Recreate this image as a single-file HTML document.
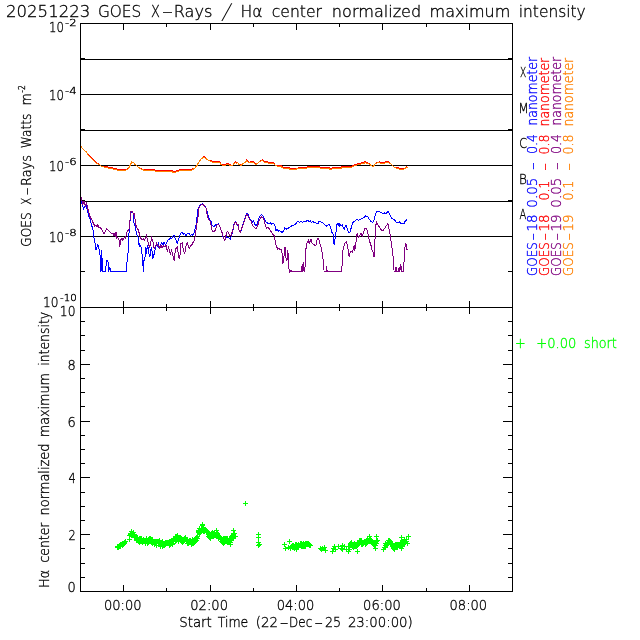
<!DOCTYPE html>
<html lang="en"><head><meta charset="utf-8"><title>GOES X-Rays / H-alpha</title>
<style>
html,body{margin:0;padding:0;background:#fff;}
body{width:640px;height:640px;overflow:hidden;}
svg{display:block;}
text{white-space:pre;}
</style></head><body>
<svg width="640" height="640" viewBox="0 0 640 640">
<rect width="640" height="640" fill="#fff"/>
<g shape-rendering="crispEdges">
<rect x="80" y="23" width="433" height="1" fill="#000"/>
<rect x="80" y="307" width="433" height="1" fill="#000"/>
<rect x="80" y="591" width="433" height="1" fill="#000"/>
<rect x="80" y="23" width="1" height="569" fill="#000"/>
<rect x="512" y="23" width="1" height="569" fill="#000"/>
<rect x="123" y="23" width="1" height="7" fill="#000"/>
<rect x="123" y="301" width="1" height="13" fill="#000"/>
<rect x="123" y="585" width="1" height="7" fill="#000"/>
<rect x="166" y="23" width="1" height="4" fill="#000"/>
<rect x="166" y="304" width="1" height="7" fill="#000"/>
<rect x="166" y="588" width="1" height="4" fill="#000"/>
<rect x="210" y="23" width="1" height="7" fill="#000"/>
<rect x="210" y="301" width="1" height="13" fill="#000"/>
<rect x="210" y="585" width="1" height="7" fill="#000"/>
<rect x="253" y="23" width="1" height="4" fill="#000"/>
<rect x="253" y="304" width="1" height="7" fill="#000"/>
<rect x="253" y="588" width="1" height="4" fill="#000"/>
<rect x="296" y="23" width="1" height="7" fill="#000"/>
<rect x="296" y="301" width="1" height="13" fill="#000"/>
<rect x="296" y="585" width="1" height="7" fill="#000"/>
<rect x="339" y="23" width="1" height="4" fill="#000"/>
<rect x="339" y="304" width="1" height="7" fill="#000"/>
<rect x="339" y="588" width="1" height="4" fill="#000"/>
<rect x="382" y="23" width="1" height="7" fill="#000"/>
<rect x="382" y="301" width="1" height="13" fill="#000"/>
<rect x="382" y="585" width="1" height="7" fill="#000"/>
<rect x="426" y="23" width="1" height="4" fill="#000"/>
<rect x="426" y="304" width="1" height="7" fill="#000"/>
<rect x="426" y="588" width="1" height="4" fill="#000"/>
<rect x="469" y="23" width="1" height="7" fill="#000"/>
<rect x="469" y="301" width="1" height="13" fill="#000"/>
<rect x="469" y="585" width="1" height="7" fill="#000"/>
<rect x="80" y="59" width="433" height="1" fill="#000"/>
<rect x="80" y="94" width="433" height="1" fill="#000"/>
<rect x="80" y="130" width="433" height="1" fill="#000"/>
<rect x="80" y="165" width="433" height="1" fill="#000"/>
<rect x="80" y="201" width="433" height="1" fill="#000"/>
<rect x="80" y="236" width="433" height="1" fill="#000"/>
<rect x="80" y="271" width="5" height="1" fill="#000"/>
<rect x="508" y="271" width="5" height="1" fill="#000"/>
<rect x="80" y="58" width="5" height="1" fill="#000"/>
<rect x="508" y="58" width="5" height="1" fill="#000"/>
<rect x="80" y="129" width="5" height="1" fill="#000"/>
<rect x="508" y="129" width="5" height="1" fill="#000"/>
<rect x="80" y="200" width="5" height="1" fill="#000"/>
<rect x="508" y="200" width="5" height="1" fill="#000"/>
<rect x="80" y="577" width="5" height="1" fill="#000"/>
<rect x="508" y="577" width="5" height="1" fill="#000"/>
<rect x="80" y="563" width="5" height="1" fill="#000"/>
<rect x="508" y="563" width="5" height="1" fill="#000"/>
<rect x="80" y="548" width="5" height="1" fill="#000"/>
<rect x="508" y="548" width="5" height="1" fill="#000"/>
<rect x="80" y="534" width="10" height="1" fill="#000"/>
<rect x="503" y="534" width="10" height="1" fill="#000"/>
<rect x="80" y="520" width="5" height="1" fill="#000"/>
<rect x="508" y="520" width="5" height="1" fill="#000"/>
<rect x="80" y="506" width="5" height="1" fill="#000"/>
<rect x="508" y="506" width="5" height="1" fill="#000"/>
<rect x="80" y="492" width="5" height="1" fill="#000"/>
<rect x="508" y="492" width="5" height="1" fill="#000"/>
<rect x="80" y="477" width="10" height="1" fill="#000"/>
<rect x="503" y="477" width="10" height="1" fill="#000"/>
<rect x="80" y="463" width="5" height="1" fill="#000"/>
<rect x="508" y="463" width="5" height="1" fill="#000"/>
<rect x="80" y="449" width="5" height="1" fill="#000"/>
<rect x="508" y="449" width="5" height="1" fill="#000"/>
<rect x="80" y="435" width="5" height="1" fill="#000"/>
<rect x="508" y="435" width="5" height="1" fill="#000"/>
<rect x="80" y="421" width="10" height="1" fill="#000"/>
<rect x="503" y="421" width="10" height="1" fill="#000"/>
<rect x="80" y="406" width="5" height="1" fill="#000"/>
<rect x="508" y="406" width="5" height="1" fill="#000"/>
<rect x="80" y="392" width="5" height="1" fill="#000"/>
<rect x="508" y="392" width="5" height="1" fill="#000"/>
<rect x="80" y="378" width="5" height="1" fill="#000"/>
<rect x="508" y="378" width="5" height="1" fill="#000"/>
<rect x="80" y="364" width="10" height="1" fill="#000"/>
<rect x="503" y="364" width="10" height="1" fill="#000"/>
<rect x="80" y="350" width="5" height="1" fill="#000"/>
<rect x="508" y="350" width="5" height="1" fill="#000"/>
<rect x="80" y="335" width="5" height="1" fill="#000"/>
<rect x="508" y="335" width="5" height="1" fill="#000"/>
<rect x="80" y="321" width="5" height="1" fill="#000"/>
<rect x="508" y="321" width="5" height="1" fill="#000"/>
<polyline points="81.0,199.2 82.2,204.2 83.5,208.6 85.4,205.5 86.6,204.2 87.2,210.5 89.1,216.8 90.4,220.5 91.6,225.5 92.9,228.6 93.5,235.5 94.8,241.8 96.0,249.9 97.2,246.8 97.9,244.9 98.5,248.0 99.8,250.5 100.4,261.8 101.0,271.8 101.6,250.5 102.2,261.8 102.9,271.8 105.4,271.8 106.6,260.5 107.9,259.9 108.5,271.8 109.8,267.4 111.0,271.8 126.0,271.8 127.2,260.5 128.5,248.0 129.1,230.5 129.8,223.0 131.0,213.0 132.2,211.8 133.5,214.2 134.1,224.2 135.4,226.8 136.6,234.2 138.5,238.0 139.1,246.8 139.8,244.2 141.0,246.8 142.2,255.5 143.5,271.8 144.1,258.0 144.8,260.5 145.4,250.5 146.0,247.4 146.6,254.2 147.2,246.8 147.9,245.5 148.5,251.8 149.8,257.4 151.0,249.2 151.6,248.0 152.9,258.6 154.1,254.2 155.4,248.0 156.6,244.2 157.9,246.8 158.5,242.4 159.1,249.2 160.4,245.5 161.6,243.0 162.9,244.9 164.1,242.4 165.4,244.9 166.6,243.0 167.9,239.9 169.1,239.9 170.4,238.0 171.6,238.6 172.9,236.1 174.1,235.5 175.4,238.6 176.6,241.1 177.2,243.6 178.5,239.9 179.8,235.5 181.0,233.0 182.2,232.4 183.5,234.2 184.8,233.6 186.0,235.5 187.9,233.0 189.1,233.6 190.4,235.5 191.6,234.2 192.9,235.5 194.1,233.0 195.4,227.4 196.6,222.4 197.6,210.5 199.8,205.5 202.2,203.8 204.5,205.2 206.2,208.0 207.9,214.2 209.1,218.6 211.0,221.1 212.2,225.5 214.1,226.8 215.4,224.9 216.6,224.2 218.5,224.0 219.8,226.1 221.0,229.9 222.2,233.0 223.5,238.6 224.8,239.9 226.6,236.8 228.5,237.4 230.4,239.2 231.6,235.5 232.9,231.1 234.1,223.6 235.4,221.8 236.6,223.6 237.9,225.5 238.5,229.2 239.8,231.8 241.0,230.5 242.2,226.8 243.5,222.4 244.8,218.6 246.0,214.9 247.2,213.0 248.5,214.9 249.8,219.2 251.0,219.9 252.2,222.4 253.5,221.1 254.8,224.2 256.0,226.1 257.2,223.6 258.5,219.9 259.8,216.1 261.6,214.2 262.9,216.1 264.1,218.0 265.4,221.1 266.6,222.4 268.5,223.6 270.4,223.0 271.6,224.2 273.5,223.6 274.8,225.5 276.0,230.5 277.2,229.2 278.5,231.1 279.8,230.5 281.0,231.8 282.2,232.4 283.5,231.1 284.8,227.4 286.0,229.2 287.2,228.6 288.5,228.0 290.4,226.8 292.2,225.5 294.1,224.9 296.0,223.6 297.9,221.1 299.1,222.4 301.0,221.1 302.2,222.4 304.1,221.1 305.4,221.8 306.6,221.1 307.9,219.9 309.1,221.8 310.4,221.1 311.6,222.4 312.9,221.1 314.1,222.4 316.0,223.0 318.5,223.0 318.5,221.8 321.0,222.0 322.9,223.0 324.8,224.9 326.6,226.1 327.9,224.9 329.1,224.2 330.4,226.8 331.6,231.8 332.9,233.6 333.5,236.8 334.1,244.9 335.4,236.8 336.0,231.8 337.0,224.2 338.2,223.6 339.1,226.1 339.8,223.6 341.0,226.1 342.2,224.9 344.1,229.2 345.4,225.5 346.6,226.1 347.9,231.1 349.1,233.0 350.4,231.1 351.6,226.1 352.9,222.4 354.8,221.1 356.6,219.2 358.5,220.5 360.4,219.2 362.2,218.6 364.1,217.4 365.4,215.9 367.2,216.1 368.5,218.0 369.8,219.9 371.0,221.8 372.9,222.4 374.1,219.9 375.4,214.2 376.6,212.0 378.5,211.8 380.4,212.1 382.2,213.0 383.5,213.6 384.8,212.8 386.0,214.2 387.9,211.1 387.9,211.1 389.1,213.0 390.4,216.1 391.6,218.0 393.5,219.2 395.4,221.1 396.6,222.8 398.5,222.8 399.8,221.8 401.0,223.6 402.9,224.0 404.1,223.6 404.8,221.8 406.2,219.9 407.2,221.1" fill="none" stroke="#0000ff" stroke-width="1"/>
<polyline points="81.0,197.4 82.9,204.2 84.1,201.1 85.4,206.1 86.6,203.0 87.9,209.2 89.1,213.0 90.4,218.0 91.6,219.2 92.9,222.4 94.8,226.1 96.0,225.5 97.2,226.8 97.9,224.9 99.1,228.0 100.4,227.4 102.2,230.5 104.1,233.6 106.6,228.6 109.1,231.1 111.6,233.6 112.9,233.0 113.5,235.5 114.1,233.0 115.4,236.8 116.0,231.8 116.6,238.0 117.9,237.4 119.1,239.9 119.8,245.5 120.4,244.2 121.0,239.2 122.2,238.6 122.9,240.5 124.1,237.4 125.4,238.6 126.6,233.0 127.9,230.5 129.1,229.2 129.8,220.5 130.4,218.0 131.0,211.1 132.2,211.1 133.5,214.2 134.1,213.6 135.4,221.8 136.0,225.5 137.2,228.0 138.5,230.5 139.8,235.5 141.0,238.6 142.2,239.9 143.5,238.6 144.1,240.5 145.4,238.6 146.6,235.5 147.2,238.6 148.5,244.2 149.8,247.4 151.6,238.0 152.9,241.8 154.1,248.6 155.4,246.8 156.6,243.0 157.9,245.5 158.5,245.5 159.8,248.0 161.0,244.9 162.2,248.0 163.5,245.5 164.8,246.8 166.0,244.9 167.2,251.1 168.5,247.4 170.4,254.2 171.6,250.5 172.9,255.5 174.1,260.5 175.4,249.2 177.2,247.4 178.5,254.2 179.1,258.6 179.8,258.0 181.0,243.6 182.2,243.0 183.5,250.5 184.8,253.6 185.4,248.0 187.2,243.0 189.1,248.6 190.4,246.1 192.2,244.2 194.1,240.5 195.4,234.9 196.6,225.5 197.9,219.2 198.5,209.2 200.4,205.5 202.2,204.2 204.1,205.5 206.0,208.0 207.2,215.5 208.5,219.2 210.4,221.8 211.6,228.6 212.9,231.8 214.8,231.1 216.0,228.0 217.2,224.9 218.5,224.2 219.8,226.1 221.0,229.9 222.2,233.0 223.5,238.0 224.8,240.5 226.0,235.5 227.2,231.8 228.5,232.4 229.8,235.5 231.0,236.1 232.2,231.8 233.5,226.8 234.8,222.4 236.0,222.4 237.2,224.9 238.5,224.9 239.1,230.5 240.4,231.8 241.6,228.6 242.9,225.5 244.8,219.9 246.0,216.1 247.2,214.2 248.5,216.8 249.8,219.9 251.0,221.1 252.2,224.9 254.1,227.4 255.4,228.6 256.6,228.0 257.9,224.9 259.1,220.5 260.4,218.0 261.6,216.8 262.9,218.0 264.1,219.9 265.4,225.5 266.6,228.0 267.9,227.4 269.1,228.6 270.4,230.5 272.2,233.6 274.1,235.5 275.4,242.4 276.6,246.8 277.9,249.2 279.1,248.6 280.4,249.9 281.6,249.2 282.2,254.2 282.9,263.6 284.1,255.5 285.0,246.8 286.0,258.0 287.0,260.5 287.9,249.9 288.5,266.8 289.8,271.8 291.0,270.5 292.2,271.8 301.0,271.8 301.6,266.1 302.5,271.8 303.2,261.8 304.1,271.8 305.0,266.8 306.0,248.6 307.2,242.4 308.5,239.9 309.1,243.6 311.0,239.2 312.2,243.6 313.5,244.2 314.8,245.5 316.0,244.9 317.2,239.2 318.5,238.6 319.8,243.0 321.0,246.8 322.2,253.0 323.5,263.0 324.1,271.8 326.0,271.8 326.6,266.1 327.2,271.8 341.6,271.8 342.2,263.0 342.9,250.5 344.1,245.5 345.4,242.4 346.6,241.8 347.9,248.0 349.1,256.8 349.8,253.0 351.0,251.1 352.2,252.4 353.5,249.2 354.1,244.9 354.8,250.5 356.0,241.8 357.2,233.0 358.5,237.4 359.8,235.5 361.0,233.0 362.2,236.1 363.5,232.4 364.8,228.6 366.0,228.6 367.2,229.9 368.5,236.8 369.8,241.8 371.0,245.5 372.2,250.5 373.5,253.0 374.1,257.4 374.8,245.5 375.4,226.8 376.6,222.4 377.9,224.9 379.8,227.4 381.6,230.5 382.9,231.1 384.8,228.0 386.6,225.5 387.9,223.6 387.9,223.6 389.1,229.2 390.4,235.5 391.6,245.5 392.9,254.2 393.5,263.0 394.1,271.8 395.4,271.8 396.0,267.4 396.6,271.8 398.5,271.8 399.1,267.4 399.8,271.8 400.8,263.6 401.6,271.8 403.5,271.8 404.1,260.5 405.0,246.8 406.0,243.6 406.6,249.2 407.2,249.9" fill="none" stroke="#800080" stroke-width="1"/>
<polyline points="81.1,146.5 83.7,150.0 86.2,151.7 89.3,155.5 92.8,158.9 96.2,162.3 99.1,164.6 101.7,166.3 104.3,166.1 107.7,167.0 112.9,167.9 117.2,169.1 125.8,169.1 128.3,168.9 130.1,165.4 131.8,162.0 133.5,162.5 135.2,164.6 137.8,166.6 140.4,168.9 143.8,169.1 154.1,169.6 155.8,170.4 171.3,170.4 173.0,171.3 176.5,171.0 179.9,169.6 188.5,169.1 188.5,169.6 191.9,169.1 194.5,168.3 197.1,165.4 198.8,162.0 201.4,158.5 204.0,156.3 205.7,158.5 208.3,160.3 211.7,161.0 214.3,161.5 219.4,161.5 221.2,164.6 223.7,164.8 226.3,163.9 228.9,163.9 230.6,164.8 232.3,165.8 234.0,163.4 235.8,161.5 236.6,162.4 237.5,162.5 239.2,164.6 240.9,164.8 242.6,163.7 245.2,162.5 246.9,159.8 248.7,162.5 251.2,161.8 253.8,161.8 255.5,163.6 257.2,163.7 259.8,161.5 262.4,159.6 264.1,162.0 266.7,161.8 270.1,162.2 273.6,162.7 275.3,165.4 277.9,165.3 280.5,165.3 283.0,167.0 288.2,167.0 289.9,168.4 295.9,168.4 298.5,168.0 298.5,167.0 307.1,167.0 308.0,166.1 319.1,166.1 320.0,167.0 328.6,167.3 330.3,168.7 332.0,167.9 336.3,167.9 338.0,167.0 341.5,167.0 342.3,166.1 351.8,166.1 353.5,165.3 356.1,164.4 359.5,163.2 363.0,162.7 365.5,161.5 367.2,162.7 369.8,164.2 371.5,165.9 373.3,166.6 375.8,163.2 379.3,161.8 382.7,162.7 386.2,161.8 388.7,161.8 391.3,164.2 393.0,166.3 395.6,167.7 398.2,167.9 401.6,168.7 404.2,168.9 406.8,166.1 407.6,168.0" fill="none" stroke="#ff0000" stroke-width="1"/>
<polyline points="81.1,146.5 83.7,150.0 86.2,151.7 88.8,156.0 92.2,159.4 95.7,162.8 99.1,164.6 101.7,166.3 104.3,167.1 107.7,168.0 112.9,168.9 117.2,170.1 125.8,170.1 128.3,168.9 130.1,165.4 131.8,162.0 133.5,162.5 135.2,164.6 137.8,166.6 140.4,168.9 143.8,170.1 154.1,170.6 155.8,171.4 171.3,171.4 173.0,172.3 176.5,172.0 179.9,170.6 188.5,170.1 188.5,170.6 191.9,170.1 194.5,168.3 197.1,165.4 198.8,162.0 201.4,158.5 204.0,157.3 205.7,158.5 208.3,160.3 211.7,162.0 214.3,162.5 219.4,162.5 221.2,164.6 223.7,165.8 226.3,164.9 228.9,164.9 230.6,165.8 232.3,165.8 234.0,163.4 235.8,162.5 236.6,163.4 237.5,162.5 239.2,164.6 240.9,165.8 242.6,163.7 245.2,162.5 246.9,160.8 248.7,162.5 251.2,162.8 253.8,162.8 255.5,164.6 257.2,163.7 259.8,161.5 262.4,160.6 264.1,162.0 266.7,162.8 270.1,163.2 273.6,163.7 275.3,165.4 277.9,166.3 280.5,166.3 283.0,168.0 288.2,168.0 289.9,169.4 295.9,169.4 298.5,168.0 298.5,168.0 307.1,168.0 308.0,167.1 319.1,167.1 320.0,168.0 328.6,168.3 330.3,169.7 332.0,168.9 336.3,168.9 338.0,168.0 341.5,168.0 342.3,167.1 351.8,167.1 353.5,166.3 356.1,165.4 359.5,164.2 363.0,163.7 365.5,162.5 367.2,163.7 369.8,164.2 371.5,165.9 373.3,166.6 375.8,163.2 379.3,162.8 382.7,163.7 386.2,162.8 388.7,162.8 391.3,164.2 393.0,166.3 395.6,167.7 398.2,168.9 401.6,169.7 404.2,168.9 406.8,167.1 407.6,168.0" fill="none" stroke="#ff8000" stroke-width="1"/>
<path d="M115 547.5h5M117.5 545v5M115 546.5h5M117.5 544v5M116 547.5h5M118.5 545v5M116 546.5h5M118.5 544v5M116 546.5h5M118.5 544v5M117 546.5h5M119.5 544v5M117 545.5h5M119.5 543v5M118 546.5h5M120.5 544v5M118 544.5h5M120.5 542v5M118 545.5h5M120.5 543v5M119 544.5h5M121.5 542v5M119 544.5h5M121.5 542v5M119 544.5h5M121.5 542v5M120 545.5h5M122.5 543v5M120 543.5h5M122.5 541v5M120 543.5h5M122.5 541v5M121 544.5h5M123.5 542v5M121 544.5h5M123.5 542v5M122 543.5h5M124.5 541v5M122 542.5h5M124.5 540v5M122 543.5h5M124.5 541v5M123 541.5h5M125.5 539v5M127 539.5h5M129.5 537v5M127 535.5h5M129.5 533v5M128 534.5h5M130.5 532v5M128 533.5h5M130.5 531v5M128 533.5h5M130.5 531v5M129 535.5h5M131.5 533v5M129 531.5h5M131.5 529v5M130 533.5h5M132.5 531v5M130 534.5h5M132.5 532v5M130 533.5h5M132.5 531v5M130 534.5h5M132.5 532v5M131 532.5h5M133.5 530v5M131 532.5h5M133.5 530v5M132 534.5h5M134.5 532v5M132 537.5h5M134.5 535v5M132 536.5h5M134.5 534v5M133 536.5h5M135.5 534v5M133 537.5h5M135.5 535v5M133 537.5h5M135.5 535v5M134 537.5h5M136.5 535v5M134 540.5h5M136.5 538v5M134 539.5h5M136.5 537v5M135 537.5h5M137.5 535v5M135 539.5h5M137.5 537v5M135 539.5h5M137.5 537v5M136 541.5h5M138.5 539v5M136 540.5h5M138.5 538v5M137 538.5h5M139.5 536v5M137 542.5h5M139.5 540v5M137 538.5h5M139.5 536v5M138 539.5h5M140.5 537v5M138 541.5h5M140.5 539v5M138 538.5h5M140.5 536v5M139 540.5h5M141.5 538v5M139 538.5h5M141.5 536v5M139 541.5h5M141.5 539v5M140 542.5h5M142.5 540v5M140 541.5h5M142.5 539v5M140 542.5h5M142.5 540v5M141 539.5h5M143.5 537v5M141 541.5h5M143.5 539v5M142 541.5h5M144.5 539v5M142 541.5h5M144.5 539v5M142 540.5h5M144.5 538v5M143 542.5h5M145.5 540v5M143 543.5h5M145.5 541v5M143 540.5h5M145.5 538v5M144 541.5h5M146.5 539v5M144 538.5h5M146.5 536v5M144 541.5h5M146.5 539v5M145 541.5h5M147.5 539v5M145 543.5h5M147.5 541v5M146 542.5h5M148.5 540v5M146 539.5h5M148.5 537v5M146 540.5h5M148.5 538v5M147 541.5h5M149.5 539v5M147 538.5h5M149.5 536v5M147 540.5h5M149.5 538v5M148 538.5h5M150.5 536v5M148 538.5h5M150.5 536v5M148 538.5h5M150.5 536v5M149 542.5h5M151.5 540v5M149 539.5h5M151.5 537v5M149 539.5h5M151.5 537v5M150 540.5h5M152.5 538v5M150 543.5h5M152.5 541v5M150 539.5h5M152.5 537v5M151 541.5h5M153.5 539v5M151 542.5h5M153.5 540v5M152 544.5h5M154.5 542v5M152 544.5h5M154.5 542v5M152 544.5h5M154.5 542v5M153 541.5h5M155.5 539v5M153 542.5h5M155.5 540v5M153 542.5h5M155.5 540v5M154 545.5h5M156.5 543v5M154 545.5h5M156.5 543v5M154 541.5h5M156.5 539v5M155 541.5h5M157.5 539v5M155 541.5h5M157.5 539v5M156 541.5h5M158.5 539v5M156 543.5h5M158.5 541v5M156 543.5h5M158.5 541v5M157 542.5h5M159.5 540v5M157 540.5h5M159.5 538v5M157 543.5h5M159.5 541v5M158 542.5h5M160.5 540v5M158 543.5h5M160.5 541v5M158 546.5h5M160.5 544v5M159 544.5h5M161.5 542v5M159 543.5h5M161.5 541v5M159 544.5h5M161.5 542v5M160 544.5h5M162.5 542v5M160 541.5h5M162.5 539v5M160 546.5h5M162.5 544v5M161 545.5h5M163.5 543v5M161 545.5h5M163.5 543v5M162 545.5h5M164.5 543v5M162 543.5h5M164.5 541v5M162 543.5h5M164.5 541v5M163 542.5h5M165.5 540v5M163 544.5h5M165.5 542v5M163 542.5h5M165.5 540v5M164 542.5h5M166.5 540v5M164 543.5h5M166.5 541v5M164 542.5h5M166.5 540v5M165 543.5h5M167.5 541v5M165 542.5h5M167.5 540v5M166 542.5h5M168.5 540v5M166 542.5h5M168.5 540v5M166 542.5h5M168.5 540v5M167 543.5h5M169.5 541v5M167 541.5h5M169.5 539v5M167 545.5h5M169.5 543v5M168 544.5h5M170.5 542v5M168 541.5h5M170.5 539v5M168 541.5h5M170.5 539v5M169 542.5h5M171.5 540v5M169 541.5h5M171.5 539v5M169 540.5h5M171.5 538v5M170 543.5h5M172.5 541v5M170 544.5h5M172.5 542v5M170 541.5h5M172.5 539v5M171 541.5h5M173.5 539v5M171 538.5h5M173.5 536v5M171 538.5h5M173.5 536v5M172 539.5h5M174.5 537v5M172 538.5h5M174.5 536v5M173 541.5h5M175.5 539v5M173 537.5h5M175.5 535v5M173 536.5h5M175.5 534v5M174 540.5h5M176.5 538v5M174 538.5h5M176.5 536v5M174 536.5h5M176.5 534v5M175 538.5h5M177.5 536v5M175 535.5h5M177.5 533v5M175 538.5h5M177.5 536v5M176 541.5h5M178.5 539v5M176 540.5h5M178.5 538v5M176 539.5h5M178.5 537v5M177 537.5h5M179.5 535v5M177 538.5h5M179.5 536v5M178 537.5h5M180.5 535v5M178 540.5h5M180.5 538v5M178 539.5h5M180.5 537v5M179 541.5h5M181.5 539v5M179 538.5h5M181.5 536v5M179 538.5h5M181.5 536v5M180 541.5h5M182.5 539v5M180 542.5h5M182.5 540v5M180 541.5h5M182.5 539v5M181 541.5h5M183.5 539v5M181 541.5h5M183.5 539v5M181 541.5h5M183.5 539v5M182 538.5h5M184.5 536v5M182 540.5h5M184.5 538v5M183 539.5h5M185.5 537v5M183 537.5h5M185.5 535v5M183 537.5h5M185.5 535v5M184 539.5h5M186.5 537v5M184 539.5h5M186.5 537v5M184 541.5h5M186.5 539v5M185 543.5h5M187.5 541v5M185 540.5h5M187.5 538v5M185 543.5h5M187.5 541v5M186 543.5h5M188.5 541v5M186 543.5h5M188.5 541v5M187 540.5h5M189.5 538v5M187 540.5h5M189.5 538v5M187 540.5h5M189.5 538v5M188 540.5h5M190.5 538v5M188 540.5h5M190.5 538v5M188 542.5h5M190.5 540v5M189 544.5h5M191.5 542v5M189 543.5h5M191.5 541v5M189 541.5h5M191.5 539v5M190 542.5h5M192.5 540v5M190 543.5h5M192.5 541v5M190 539.5h5M192.5 537v5M191 542.5h5M193.5 540v5M191 543.5h5M193.5 541v5M191 542.5h5M193.5 540v5M192 542.5h5M194.5 540v5M192 540.5h5M194.5 538v5M193 538.5h5M195.5 536v5M193 541.5h5M195.5 539v5M193 538.5h5M195.5 536v5M194 540.5h5M196.5 538v5M194 540.5h5M196.5 538v5M194 537.5h5M196.5 535v5M195 536.5h5M197.5 534v5M195 538.5h5M197.5 536v5M195 536.5h5M197.5 534v5M196 532.5h5M198.5 530v5M196 531.5h5M198.5 529v5M196 530.5h5M198.5 528v5M197 533.5h5M199.5 531v5M197 532.5h5M199.5 530v5M197 528.5h5M199.5 526v5M198 531.5h5M200.5 529v5M198 532.5h5M200.5 530v5M199 530.5h5M201.5 528v5M199 528.5h5M201.5 526v5M199 528.5h5M201.5 526v5M200 525.5h5M202.5 523v5M200 524.5h5M202.5 522v5M200 530.5h5M202.5 528v5M201 528.5h5M203.5 526v5M201 528.5h5M203.5 526v5M201 531.5h5M203.5 529v5M202 529.5h5M204.5 527v5M202 531.5h5M204.5 529v5M202 531.5h5M204.5 529v5M203 529.5h5M205.5 527v5M203 529.5h5M205.5 527v5M203 530.5h5M205.5 528v5M204 530.5h5M206.5 528v5M204 532.5h5M206.5 530v5M204 531.5h5M206.5 529v5M205 532.5h5M207.5 530v5M205 531.5h5M207.5 529v5M206 536.5h5M208.5 534v5M206 533.5h5M208.5 531v5M206 534.5h5M208.5 532v5M207 535.5h5M209.5 533v5M207 537.5h5M209.5 535v5M207 535.5h5M209.5 533v5M208 538.5h5M210.5 536v5M208 536.5h5M210.5 534v5M208 536.5h5M210.5 534v5M209 535.5h5M211.5 533v5M209 533.5h5M211.5 531v5M209 535.5h5M211.5 533v5M210 533.5h5M212.5 531v5M210 532.5h5M212.5 530v5M210 536.5h5M212.5 534v5M211 533.5h5M213.5 531v5M211 534.5h5M213.5 532v5M211 536.5h5M213.5 534v5M212 535.5h5M214.5 533v5M212 533.5h5M214.5 531v5M213 534.5h5M215.5 532v5M213 534.5h5M215.5 532v5M213 535.5h5M215.5 533v5M214 532.5h5M216.5 530v5M214 534.5h5M216.5 532v5M214 532.5h5M216.5 530v5M215 533.5h5M217.5 531v5M215 536.5h5M217.5 534v5M215 535.5h5M217.5 533v5M216 535.5h5M218.5 533v5M216 537.5h5M218.5 535v5M216 538.5h5M218.5 536v5M217 536.5h5M219.5 534v5M217 537.5h5M219.5 535v5M217 537.5h5M219.5 535v5M218 537.5h5M220.5 535v5M218 538.5h5M220.5 536v5M218 537.5h5M220.5 535v5M219 538.5h5M221.5 536v5M219 538.5h5M221.5 536v5M219 541.5h5M221.5 539v5M220 540.5h5M222.5 538v5M220 541.5h5M222.5 539v5M220 542.5h5M222.5 540v5M221 538.5h5M223.5 536v5M221 540.5h5M223.5 538v5M222 542.5h5M224.5 540v5M222 541.5h5M224.5 539v5M222 538.5h5M224.5 536v5M223 538.5h5M225.5 536v5M223 539.5h5M225.5 537v5M223 538.5h5M225.5 536v5M224 539.5h5M226.5 537v5M224 538.5h5M226.5 536v5M224 541.5h5M226.5 539v5M225 541.5h5M227.5 539v5M225 542.5h5M227.5 540v5M225 538.5h5M227.5 536v5M226 541.5h5M228.5 539v5M226 541.5h5M228.5 539v5M227 538.5h5M229.5 536v5M227 542.5h5M229.5 540v5M227 542.5h5M229.5 540v5M228 538.5h5M230.5 536v5M228 542.5h5M230.5 540v5M228 538.5h5M230.5 536v5M229 538.5h5M231.5 536v5M229 540.5h5M231.5 538v5M229 539.5h5M231.5 537v5M230 535.5h5M232.5 533v5M230 536.5h5M232.5 534v5M230 536.5h5M232.5 534v5M231 535.5h5M233.5 533v5M231 533.5h5M233.5 531v5M231 534.5h5M233.5 532v5M232 536.5h5M234.5 534v5M232 533.5h5M234.5 531v5M233 536.5h5M235.5 534v5M289 546.5h5M291.5 544v5M290 545.5h5M292.5 543v5M290 546.5h5M292.5 544v5M290 547.5h5M292.5 545v5M291 547.5h5M293.5 545v5M291 545.5h5M293.5 543v5M292 548.5h5M294.5 546v5M292 547.5h5M294.5 545v5M292 548.5h5M294.5 546v5M293 545.5h5M295.5 543v5M293 545.5h5M295.5 543v5M293 544.5h5M295.5 542v5M294 547.5h5M296.5 545v5M294 545.5h5M296.5 543v5M294 544.5h5M296.5 542v5M295 545.5h5M297.5 543v5M295 547.5h5M297.5 545v5M295 546.5h5M297.5 544v5M296 544.5h5M298.5 542v5M296 544.5h5M298.5 542v5M296 546.5h5M298.5 544v5M297 545.5h5M299.5 543v5M297 545.5h5M299.5 543v5M298 543.5h5M300.5 541v5M298 543.5h5M300.5 541v5M298 545.5h5M300.5 543v5M299 544.5h5M301.5 542v5M299 543.5h5M301.5 541v5M299 546.5h5M301.5 544v5M300 545.5h5M302.5 543v5M300 546.5h5M302.5 544v5M300 544.5h5M302.5 542v5M301 546.5h5M303.5 544v5M301 543.5h5M303.5 541v5M302 546.5h5M304.5 544v5M302 544.5h5M304.5 542v5M302 544.5h5M304.5 542v5M303 545.5h5M305.5 543v5M303 546.5h5M305.5 544v5M303 543.5h5M305.5 541v5M304 543.5h5M306.5 541v5M304 544.5h5M306.5 542v5M304 543.5h5M306.5 541v5M305 543.5h5M307.5 541v5M305 543.5h5M307.5 541v5M305 543.5h5M307.5 541v5M306 543.5h5M308.5 541v5M306 544.5h5M308.5 542v5M307 544.5h5M309.5 542v5M307 545.5h5M309.5 543v5M307 544.5h5M309.5 542v5M308 545.5h5M310.5 543v5M348 543.5h5M350.5 541v5M348 544.5h5M350.5 542v5M349 542.5h5M351.5 540v5M349 544.5h5M351.5 542v5M349 543.5h5M351.5 541v5M350 546.5h5M352.5 544v5M350 545.5h5M352.5 543v5M350 544.5h5M352.5 542v5M351 545.5h5M353.5 543v5M351 547.5h5M353.5 545v5M352 543.5h5M354.5 541v5M352 546.5h5M354.5 544v5M352 544.5h5M354.5 542v5M353 544.5h5M355.5 542v5M353 546.5h5M355.5 544v5M353 544.5h5M355.5 542v5M354 544.5h5M356.5 542v5M354 545.5h5M356.5 543v5M354 546.5h5M356.5 544v5M355 543.5h5M357.5 541v5M355 545.5h5M357.5 543v5M355 544.5h5M357.5 542v5M356 543.5h5M358.5 541v5M356 542.5h5M358.5 540v5M357 542.5h5M359.5 540v5M357 540.5h5M359.5 538v5M357 540.5h5M359.5 538v5M358 540.5h5M360.5 538v5M358 542.5h5M360.5 540v5M358 540.5h5M360.5 538v5M359 540.5h5M361.5 538v5M359 540.5h5M361.5 538v5M359 544.5h5M361.5 542v5M360 544.5h5M362.5 542v5M360 543.5h5M362.5 541v5M360 542.5h5M362.5 540v5M361 542.5h5M363.5 540v5M361 542.5h5M363.5 540v5M361 543.5h5M363.5 541v5M362 541.5h5M364.5 539v5M362 542.5h5M364.5 540v5M363 541.5h5M365.5 539v5M363 544.5h5M365.5 542v5M363 544.5h5M365.5 542v5M364 541.5h5M366.5 539v5M364 540.5h5M366.5 538v5M364 543.5h5M366.5 541v5M365 540.5h5M367.5 538v5M365 540.5h5M367.5 538v5M365 539.5h5M367.5 537v5M366 540.5h5M368.5 538v5M366 541.5h5M368.5 539v5M367 541.5h5M369.5 539v5M367 540.5h5M369.5 538v5M367 541.5h5M369.5 539v5M368 539.5h5M370.5 537v5M368 540.5h5M370.5 538v5M368 540.5h5M370.5 538v5M369 541.5h5M371.5 539v5M369 540.5h5M371.5 538v5M369 540.5h5M371.5 538v5M370 541.5h5M372.5 539v5M370 541.5h5M372.5 539v5M370 543.5h5M372.5 541v5M371 543.5h5M373.5 541v5M371 544.5h5M373.5 542v5M371 544.5h5M373.5 542v5M372 544.5h5M374.5 542v5M372 545.5h5M374.5 543v5M372 542.5h5M374.5 540v5M373 542.5h5M375.5 540v5M373 545.5h5M375.5 543v5M374 541.5h5M376.5 539v5M374 543.5h5M376.5 541v5M374 543.5h5M376.5 541v5M375 540.5h5M377.5 538v5M381 549.5h5M383.5 547v5M381 549.5h5M383.5 547v5M382 547.5h5M384.5 545v5M382 547.5h5M384.5 545v5M383 547.5h5M385.5 545v5M383 543.5h5M385.5 541v5M383 545.5h5M385.5 543v5M384 544.5h5M386.5 542v5M384 545.5h5M386.5 543v5M384 544.5h5M386.5 542v5M385 544.5h5M387.5 542v5M385 543.5h5M387.5 541v5M385 544.5h5M387.5 542v5M386 542.5h5M388.5 540v5M386 542.5h5M388.5 540v5M386 540.5h5M388.5 538v5M387 540.5h5M389.5 538v5M387 540.5h5M389.5 538v5M388 541.5h5M390.5 539v5M388 541.5h5M390.5 539v5M388 544.5h5M390.5 542v5M389 543.5h5M391.5 541v5M389 543.5h5M391.5 541v5M389 544.5h5M391.5 542v5M390 545.5h5M392.5 543v5M390 545.5h5M392.5 543v5M390 543.5h5M392.5 541v5M391 547.5h5M393.5 545v5M391 548.5h5M393.5 546v5M391 547.5h5M393.5 545v5M392 547.5h5M394.5 545v5M392 547.5h5M394.5 545v5M393 544.5h5M395.5 542v5M393 547.5h5M395.5 545v5M393 545.5h5M395.5 543v5M394 544.5h5M396.5 542v5M394 544.5h5M396.5 542v5M394 546.5h5M396.5 544v5M395 544.5h5M397.5 542v5M395 546.5h5M397.5 544v5M395 547.5h5M397.5 545v5M396 545.5h5M398.5 543v5M396 544.5h5M398.5 542v5M397 545.5h5M399.5 543v5M397 545.5h5M399.5 543v5M397 546.5h5M399.5 544v5M398 545.5h5M400.5 543v5M398 545.5h5M400.5 543v5M398 542.5h5M400.5 540v5M399 542.5h5M401.5 540v5M399 543.5h5M401.5 541v5M399 545.5h5M401.5 543v5M400 542.5h5M402.5 540v5M400 543.5h5M402.5 541v5M400 541.5h5M402.5 539v5M401 541.5h5M403.5 539v5M401 541.5h5M403.5 539v5M401 543.5h5M403.5 541v5M402 543.5h5M404.5 541v5M402 543.5h5M404.5 541v5M403 541.5h5M405.5 539v5M403 542.5h5M405.5 540v5M403 541.5h5M405.5 539v5M404 541.5h5M406.5 539v5M404 539.5h5M406.5 537v5M243 503.5h5M245.5 501v5M200 524.5h5M202.5 522v5M214 530.5h5M216.5 528v5M231 530.5h5M233.5 528v5M228 544.5h5M230.5 542v5M221 543.5h5M223.5 541v5M256 534.5h5M258.5 532v5M256 537.5h5M258.5 535v5M256 542.5h5M258.5 540v5M256 545.5h5M258.5 543v5M257 544.5h5M259.5 542v5M282 544.5h5M284.5 542v5M283 548.5h5M285.5 546v5M287 541.5h5M289.5 539v5M286 547.5h5M288.5 545v5M288 548.5h5M290.5 546v5M294 549.5h5M296.5 547v5M318 548.5h5M320.5 546v5M319 549.5h5M321.5 547v5M322 547.5h5M324.5 545v5M323 550.5h5M325.5 548v5M320 548.5h5M322.5 546v5M330 551.5h5M332.5 549v5M331 548.5h5M333.5 546v5M332 546.5h5M334.5 544v5M333 549.5h5M335.5 547v5M336 546.5h5M338.5 544v5M339 548.5h5M341.5 546v5M340 545.5h5M342.5 543v5M342 546.5h5M344.5 544v5M344 549.5h5M346.5 547v5M346 546.5h5M348.5 544v5M347 549.5h5M349.5 547v5M348 545.5h5M350.5 543v5M340 549.5h5M342.5 547v5M346 551.5h5M348.5 549v5M355 551.5h5M357.5 549v5M367 536.5h5M369.5 534v5M374 536.5h5M376.5 534v5M373 548.5h5M375.5 546v5M392 549.5h5M394.5 547v5M399 548.5h5M401.5 546v5M399 537.5h5M401.5 535v5M402 539.5h5M404.5 537v5M406 536.5h5M408.5 534v5M400 546.5h5M402.5 544v5M405 543.5h5M407.5 541v5" stroke="#00ff00" stroke-width="1" fill="none"/>
</g>
<g font-family='"DejaVu Sans Light", "DejaVu Sans", "Liberation Sans", sans-serif' stroke-width="0.33" opacity="0.999">
<text x="6.04" y="17" font-size="15.6" textLength="84.24" lengthAdjust="spacingAndGlyphs" fill="#000" stroke="#000">20251223</text>
<text x="97.92" y="17" font-size="15.6" textLength="43.37" lengthAdjust="spacingAndGlyphs" fill="#000" stroke="#000">GOES</text>
<text x="151.0" y="17" font-size="15.6" textLength="8.87" lengthAdjust="spacingAndGlyphs" fill="#000" stroke="#000">X</text>
<text x="162.0" y="17" font-size="15.6" textLength="11.03" lengthAdjust="spacingAndGlyphs" fill="#000" stroke="#000">-</text>
<text x="173.71" y="17" font-size="15.6" textLength="38.75" lengthAdjust="spacingAndGlyphs" fill="#000" stroke="#000">Rays</text>
<text x="240.6" y="17" font-size="15.6" textLength="21.98" lengthAdjust="spacingAndGlyphs" fill="#000" stroke="#000">Hα</text>
<text x="271.75" y="17" font-size="15.6" textLength="50.16" lengthAdjust="spacingAndGlyphs" fill="#000" stroke="#000">center</text>
<text x="331.87" y="17" font-size="15.6" textLength="89.36" lengthAdjust="spacingAndGlyphs" fill="#000" stroke="#000">normalized</text>
<text x="429.57" y="17" font-size="15.6" textLength="80.75" lengthAdjust="spacingAndGlyphs" fill="#000" stroke="#000">maximum</text>
<text x="518.81" y="17" font-size="15.6" textLength="66.92" lengthAdjust="spacingAndGlyphs" fill="#000" stroke="#000">intensity</text>
<text x="49.12" y="32" font-size="13.2" textLength="14.83" lengthAdjust="spacingAndGlyphs" fill="#000" stroke="#000">10</text>
<text x="65.0" y="26" font-size="8.4" textLength="11.66" lengthAdjust="spacingAndGlyphs" fill="#000" stroke="#000">-2</text>
<text x="49.12" y="100" font-size="13.2" textLength="14.83" lengthAdjust="spacingAndGlyphs" fill="#000" stroke="#000">10</text>
<text x="65.0" y="94" font-size="8.4" textLength="11.66" lengthAdjust="spacingAndGlyphs" fill="#000" stroke="#000">-4</text>
<text x="49.12" y="171" font-size="13.2" textLength="14.83" lengthAdjust="spacingAndGlyphs" fill="#000" stroke="#000">10</text>
<text x="65.0" y="165" font-size="8.4" textLength="11.66" lengthAdjust="spacingAndGlyphs" fill="#000" stroke="#000">-6</text>
<text x="49.12" y="242" font-size="13.2" textLength="14.83" lengthAdjust="spacingAndGlyphs" fill="#000" stroke="#000">10</text>
<text x="65.0" y="236" font-size="8.4" textLength="11.66" lengthAdjust="spacingAndGlyphs" fill="#000" stroke="#000">-8</text>
<text x="43.08" y="307" font-size="13.2" textLength="15.48" lengthAdjust="spacingAndGlyphs" fill="#000" stroke="#000">10</text>
<text x="60.0" y="301" font-size="8.4" textLength="16.7" lengthAdjust="spacingAndGlyphs" fill="#000" stroke="#000">-10</text>
<text x="67.41" y="592" font-size="13.2" textLength="8.27" lengthAdjust="spacingAndGlyphs" fill="#000" stroke="#000">0</text>
<text x="68.4" y="540" font-size="13.2" textLength="7.24" lengthAdjust="spacingAndGlyphs" fill="#000" stroke="#000">2</text>
<text x="68.4" y="483" font-size="13.2" textLength="7.24" lengthAdjust="spacingAndGlyphs" fill="#000" stroke="#000">4</text>
<text x="67.41" y="427" font-size="13.2" textLength="8.27" lengthAdjust="spacingAndGlyphs" fill="#000" stroke="#000">6</text>
<text x="67.41" y="370" font-size="13.2" textLength="8.27" lengthAdjust="spacingAndGlyphs" fill="#000" stroke="#000">8</text>
<text x="59.86" y="316" font-size="13.2" textLength="15.7" lengthAdjust="spacingAndGlyphs" fill="#000" stroke="#000">10</text>
<text x="103.91" y="610" font-size="13.2" textLength="37.68" lengthAdjust="spacingAndGlyphs" fill="#000" stroke="#000">00:00</text>
<text x="190.31" y="610" font-size="13.2" textLength="37.68" lengthAdjust="spacingAndGlyphs" fill="#000" stroke="#000">02:00</text>
<text x="276.71" y="610" font-size="13.2" textLength="37.68" lengthAdjust="spacingAndGlyphs" fill="#000" stroke="#000">04:00</text>
<text x="363.11" y="610" font-size="13.2" textLength="37.68" lengthAdjust="spacingAndGlyphs" fill="#000" stroke="#000">06:00</text>
<text x="449.51" y="610" font-size="13.2" textLength="37.68" lengthAdjust="spacingAndGlyphs" fill="#000" stroke="#000">08:00</text>
<text x="179.19" y="627" font-size="13.2" textLength="32.58" lengthAdjust="spacingAndGlyphs" fill="#000" stroke="#000">Start</text>
<text x="217.7" y="627" font-size="13.2" textLength="30.61" lengthAdjust="spacingAndGlyphs" fill="#000" stroke="#000">Time</text>
<text x="255.69" y="627" font-size="13.2" textLength="22.21" lengthAdjust="spacingAndGlyphs" fill="#000" stroke="#000">(22</text>
<text x="279.7" y="627" font-size="13.2" textLength="8.76" lengthAdjust="spacingAndGlyphs" fill="#000" stroke="#000">-</text>
<text x="289.09" y="627" font-size="13.2" textLength="23.13" lengthAdjust="spacingAndGlyphs" fill="#000" stroke="#000">Dec</text>
<text x="314.6" y="627" font-size="13.2" textLength="8.47" lengthAdjust="spacingAndGlyphs" fill="#000" stroke="#000">-</text>
<text x="325.0" y="627" font-size="13.2" textLength="16.14" lengthAdjust="spacingAndGlyphs" fill="#000" stroke="#000">25</text>
<text x="347.9" y="627" font-size="13.2" textLength="64.85" lengthAdjust="spacingAndGlyphs" fill="#000" stroke="#000">23:00:00)</text>
<text x="31.2" y="246.72" font-size="13.2" textLength="34.36" lengthAdjust="spacingAndGlyphs" fill="#000" stroke="#000" transform="rotate(-90 31.2 246.72)">GOES</text>
<text x="31.2" y="204.8" font-size="13.2" textLength="7.13" lengthAdjust="spacingAndGlyphs" fill="#000" stroke="#000" transform="rotate(-90 31.2 204.8)">X</text>
<text x="31.2" y="195.2" font-size="13.2" textLength="7.71" lengthAdjust="spacingAndGlyphs" fill="#000" stroke="#000" transform="rotate(-90 31.2 195.2)">-</text>
<text x="31.2" y="185.98" font-size="13.2" textLength="30.93" lengthAdjust="spacingAndGlyphs" fill="#000" stroke="#000" transform="rotate(-90 31.2 185.98)">Rays</text>
<text x="31.2" y="148.2" font-size="13.2" textLength="34.5" lengthAdjust="spacingAndGlyphs" fill="#000" stroke="#000" transform="rotate(-90 31.2 148.2)">Watts</text>
<text x="31.2" y="105.55" font-size="13.2" textLength="12.26" lengthAdjust="spacingAndGlyphs" fill="#000" stroke="#000" transform="rotate(-90 31.2 105.55)">m</text>
<text x="25.4" y="92.7" font-size="8.4" textLength="7.6" lengthAdjust="spacingAndGlyphs" fill="#000" stroke="#000" transform="rotate(-90 25.4 92.7)">-2</text>
<text x="48.7" y="587.97" font-size="13.2" textLength="18.04" lengthAdjust="spacingAndGlyphs" fill="#000" stroke="#000" transform="rotate(-90 48.7 587.97)">Hα</text>
<text x="48.7" y="562.5" font-size="13.2" textLength="39.96" lengthAdjust="spacingAndGlyphs" fill="#000" stroke="#000" transform="rotate(-90 48.7 562.5)">center</text>
<text x="48.7" y="515.38" font-size="13.2" textLength="71.93" lengthAdjust="spacingAndGlyphs" fill="#000" stroke="#000" transform="rotate(-90 48.7 515.38)">normalized</text>
<text x="48.7" y="437.27" font-size="13.2" textLength="64.29" lengthAdjust="spacingAndGlyphs" fill="#000" stroke="#000" transform="rotate(-90 48.7 437.27)">maximum</text>
<text x="48.7" y="365.74" font-size="13.2" textLength="53.86" lengthAdjust="spacingAndGlyphs" fill="#000" stroke="#000" transform="rotate(-90 48.7 365.74)">intensity</text>
<text x="520.0" y="77.4" font-size="13.2" textLength="6.22" lengthAdjust="spacingAndGlyphs" fill="#000" stroke="#000">X</text>
<text x="518.15" y="112.9" font-size="13.2" textLength="10.52" lengthAdjust="spacingAndGlyphs" fill="#000" stroke="#000">M</text>
<text x="519.15" y="148.4" font-size="13.2" textLength="7.83" lengthAdjust="spacingAndGlyphs" fill="#000" stroke="#000">C</text>
<text x="519.09" y="183.9" font-size="13.2" textLength="7.89" lengthAdjust="spacingAndGlyphs" fill="#000" stroke="#000">B</text>
<text x="519.5" y="219.4" font-size="13.2" textLength="6.82" lengthAdjust="spacingAndGlyphs" fill="#000" stroke="#000">A</text>
<text x="537.2" y="275.9" font-size="13.2" textLength="33.74" lengthAdjust="spacingAndGlyphs" fill="#0000ff" stroke="#0000ff" transform="rotate(-90 537.2 275.9)">GOES</text>
<text x="537.2" y="240.6" font-size="13.2" textLength="7.52" lengthAdjust="spacingAndGlyphs" fill="#0000ff" stroke="#0000ff" transform="rotate(-90 537.2 240.6)">-</text>
<text x="537.2" y="231.61" font-size="13.2" textLength="17.01" lengthAdjust="spacingAndGlyphs" fill="#0000ff" stroke="#0000ff" transform="rotate(-90 537.2 231.61)">18</text>
<text x="537.2" y="207.62" font-size="13.2" textLength="29.94" lengthAdjust="spacingAndGlyphs" fill="#0000ff" stroke="#0000ff" transform="rotate(-90 537.2 207.62)">0.05</text>
<text x="537.2" y="170.0" font-size="13.2" textLength="7.71" lengthAdjust="spacingAndGlyphs" fill="#0000ff" stroke="#0000ff" transform="rotate(-90 537.2 170.0)">-</text>
<text x="537.2" y="153.73" font-size="13.2" textLength="19.49" lengthAdjust="spacingAndGlyphs" fill="#0000ff" stroke="#0000ff" transform="rotate(-90 537.2 153.73)">0.4</text>
<text x="537.2" y="125.65" font-size="13.2" textLength="68.7" lengthAdjust="spacingAndGlyphs" fill="#0000ff" stroke="#0000ff" transform="rotate(-90 537.2 125.65)">nanometer</text>
<text x="549.2" y="275.9" font-size="13.2" textLength="33.74" lengthAdjust="spacingAndGlyphs" fill="#ff0000" stroke="#ff0000" transform="rotate(-90 549.2 275.9)">GOES</text>
<text x="549.2" y="240.6" font-size="13.2" textLength="7.52" lengthAdjust="spacingAndGlyphs" fill="#ff0000" stroke="#ff0000" transform="rotate(-90 549.2 240.6)">-</text>
<text x="549.2" y="231.61" font-size="13.2" textLength="17.01" lengthAdjust="spacingAndGlyphs" fill="#ff0000" stroke="#ff0000" transform="rotate(-90 549.2 231.61)">18</text>
<text x="549.2" y="200.44" font-size="13.2" textLength="19.75" lengthAdjust="spacingAndGlyphs" fill="#ff0000" stroke="#ff0000" transform="rotate(-90 549.2 200.44)">0.1</text>
<text x="549.2" y="170.8" font-size="13.2" textLength="7.71" lengthAdjust="spacingAndGlyphs" fill="#ff0000" stroke="#ff0000" transform="rotate(-90 549.2 170.8)">-</text>
<text x="549.2" y="154.56" font-size="13.2" textLength="20.09" lengthAdjust="spacingAndGlyphs" fill="#ff0000" stroke="#ff0000" transform="rotate(-90 549.2 154.56)">0.8</text>
<text x="549.2" y="126.45" font-size="13.2" textLength="68.7" lengthAdjust="spacingAndGlyphs" fill="#ff0000" stroke="#ff0000" transform="rotate(-90 549.2 126.45)">nanometer</text>
<text x="561.2" y="275.9" font-size="13.2" textLength="33.74" lengthAdjust="spacingAndGlyphs" fill="#800080" stroke="#800080" transform="rotate(-90 561.2 275.9)">GOES</text>
<text x="561.2" y="240.6" font-size="13.2" textLength="7.52" lengthAdjust="spacingAndGlyphs" fill="#800080" stroke="#800080" transform="rotate(-90 561.2 240.6)">-</text>
<text x="561.2" y="231.61" font-size="13.2" textLength="17.01" lengthAdjust="spacingAndGlyphs" fill="#800080" stroke="#800080" transform="rotate(-90 561.2 231.61)">19</text>
<text x="561.2" y="207.62" font-size="13.2" textLength="29.94" lengthAdjust="spacingAndGlyphs" fill="#800080" stroke="#800080" transform="rotate(-90 561.2 207.62)">0.05</text>
<text x="561.2" y="170.0" font-size="13.2" textLength="7.71" lengthAdjust="spacingAndGlyphs" fill="#800080" stroke="#800080" transform="rotate(-90 561.2 170.0)">-</text>
<text x="561.2" y="153.73" font-size="13.2" textLength="19.49" lengthAdjust="spacingAndGlyphs" fill="#800080" stroke="#800080" transform="rotate(-90 561.2 153.73)">0.4</text>
<text x="561.2" y="125.65" font-size="13.2" textLength="68.7" lengthAdjust="spacingAndGlyphs" fill="#800080" stroke="#800080" transform="rotate(-90 561.2 125.65)">nanometer</text>
<text x="573.2" y="275.9" font-size="13.2" textLength="33.74" lengthAdjust="spacingAndGlyphs" fill="#ff8000" stroke="#ff8000" transform="rotate(-90 573.2 275.9)">GOES</text>
<text x="573.2" y="240.6" font-size="13.2" textLength="7.52" lengthAdjust="spacingAndGlyphs" fill="#ff8000" stroke="#ff8000" transform="rotate(-90 573.2 240.6)">-</text>
<text x="573.2" y="231.61" font-size="13.2" textLength="17.01" lengthAdjust="spacingAndGlyphs" fill="#ff8000" stroke="#ff8000" transform="rotate(-90 573.2 231.61)">19</text>
<text x="573.2" y="200.44" font-size="13.2" textLength="19.75" lengthAdjust="spacingAndGlyphs" fill="#ff8000" stroke="#ff8000" transform="rotate(-90 573.2 200.44)">0.1</text>
<text x="573.2" y="170.8" font-size="13.2" textLength="7.71" lengthAdjust="spacingAndGlyphs" fill="#ff8000" stroke="#ff8000" transform="rotate(-90 573.2 170.8)">-</text>
<text x="573.2" y="154.56" font-size="13.2" textLength="20.09" lengthAdjust="spacingAndGlyphs" fill="#ff8000" stroke="#ff8000" transform="rotate(-90 573.2 154.56)">0.8</text>
<text x="573.2" y="126.45" font-size="13.2" textLength="68.7" lengthAdjust="spacingAndGlyphs" fill="#ff8000" stroke="#ff8000" transform="rotate(-90 573.2 126.45)">nanometer</text>
<text x="515.03" y="348.3" font-size="13.2" textLength="10.68" lengthAdjust="spacingAndGlyphs" fill="#00ff00" stroke="#00ff00">+</text>
<text x="536.21" y="348.3" font-size="13.2" textLength="40.18" lengthAdjust="spacingAndGlyphs" fill="#00ff00" stroke="#00ff00">+0.00</text>
<text x="584.0" y="348.3" font-size="13.2" textLength="32.77" lengthAdjust="spacingAndGlyphs" fill="#00ff00" stroke="#00ff00">short</text>
<text x="221.6" y="19" font-size="21.5" stroke-width="0" transform="translate(221.6 19) skewX(-14) translate(-221.6 -19)">/</text>
</g>
</svg>
</body></html>
